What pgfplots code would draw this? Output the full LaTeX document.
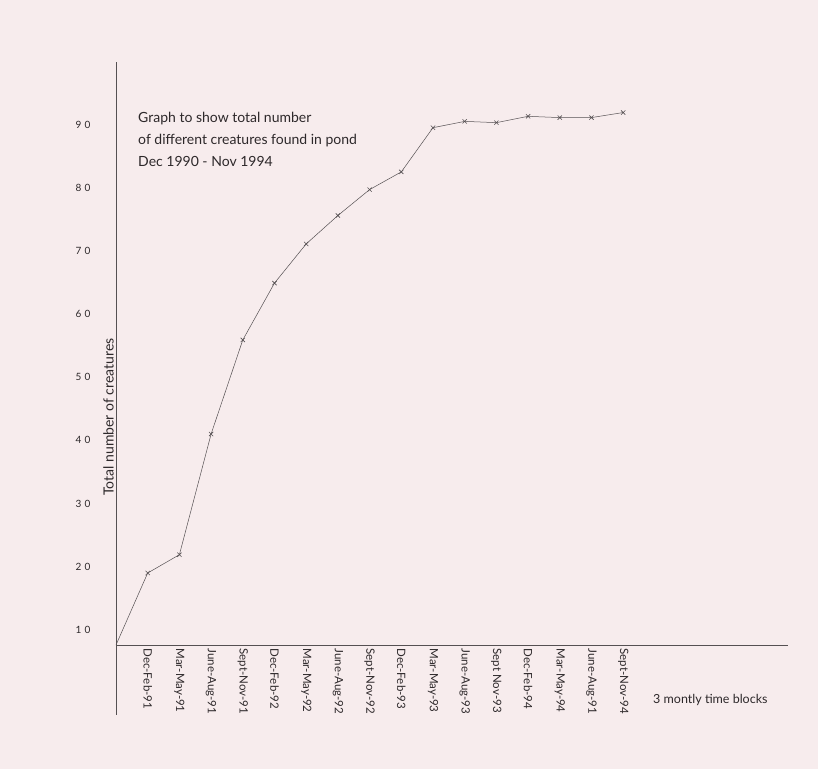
\documentclass[border=0pt]{standalone}
\usepackage{fontspec}
\setmainfont{Lato}
\usepackage{pgfplots}
\pgfplotsset{compat=1.18}
\definecolor{bgcol}{RGB}{247,236,237}
\definecolor{ink}{RGB}{45,40,42}
\definecolor{linecol}{RGB}{85,80,82}
\begin{document}
\begin{tikzpicture}[x=1pt,y=1pt]
\path[use as bounding box, fill=bgcol] (0,0) rectangle (818,-769);
\begin{axis}[
  at={(116pt,-645pt)}, anchor=south west,
  scale only axis, width=672pt, height=583pt,
  xmin=0, xmax=21.2, ymin=7.6, ymax=99.9,
  axis lines=left, axis line style={-, draw=linecol, line width=0.6pt},
  major tick length=0pt,
  ytick={10,20,30,40,50,60,70,80,90},
  yticklabels={{1\,\,0},{2\,\,0},{3\,\,0},{4\,\,0},{5\,\,0},{6\,\,0},{7\,\,0},{8\,\,0},{9\,\,0}},
  yticklabel style={anchor=east, xshift=-22pt, font=\fontsize{10}{12}\selectfont, text=ink},
  xtick={1,...,16},
  xticklabels={Dec-Feb-91, Mar-May-91, June-Aug-91, Sept-Nov-91, Dec-Feb-92, Mar-May-92, June-Aug-92, Sept-Nov-92, Dec-Feb-93, Mar-May-93, June-Aug-93, Sept Nov-93, Dec-Feb-94, Mar-May-94, June-Aug-91, Sept-Nov-94},
  xticklabel style={rotate=-90, anchor=west, font=\fontsize{11.5}{13}\selectfont, text=ink},
  clip=false,
]
\addplot[color=linecol, line width=0.5pt, mark=x, mark size=3pt, mark indices={2,...,17}, mark options={line width=0.6pt}] coordinates {
  (0,7.6) (1,19.0) (2,21.9) (3,41.0) (4,55.9) (5,64.9) (6,71.1) (7,75.6) (8,79.7)
  (9,82.5) (10,89.5) (11,90.5) (12,90.3) (13,91.3) (14,91.1) (15,91.1) (16,91.9)
};
\end{axis}
\draw[linecol, line width=0.6pt] (116,-645) -- (116,-715);
\node[rotate=90, anchor=south, inner sep=1pt, text=ink, font=\fontsize{14}{16}\selectfont] at (115,-417) {Total number of creatures};
\node[anchor=north west, align=left, inner sep=0pt, text=ink, font=\fontsize{14}{22}\selectfont] at (138,-112) {Graph to show total number\\of different creatures found in pond\\Dec 1990 - Nov 1994};
\node[anchor=west, inner sep=0pt, text=ink, font=\fontsize{12.5}{14}\selectfont] at (653,-700) {3 montly time blocks};
\end{tikzpicture}
\end{document}
